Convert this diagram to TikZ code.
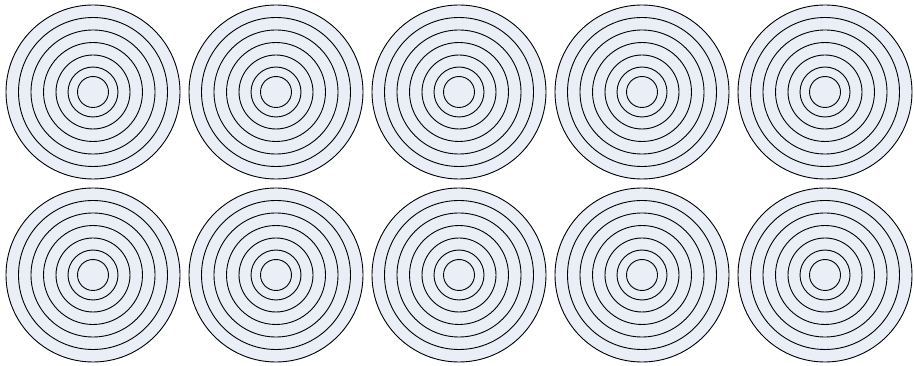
\documentclass[tikz,border=0pt]{standalone}
\usepackage{tikz}
\definecolor{targetfill}{RGB}{233, 238, 247}
\usetikzlibrary{positioning}
\tikzset{
  % Outer disc of each target.
  target/.style={
    circle, draw=black, line width=0.9pt,
    fill=targetfill,
    inner sep=0pt, minimum size=174pt,
  },
  % Inner rings.
  ring/.style={draw=black, line width=0.9pt},
}

\begin{document}
\begin{tikzpicture}[x=1pt, y=-1pt]

  \useasboundingbox (0, 0) rectangle (914, 366);

  % Two rows of five targets.
  \foreach \row/\ypos in {1/92, 2/275} {
    \foreach \col in {1, ..., 5} {
      \node[target] (t-\row-\col) at ({93 + 183*(\col-1)}, \ypos) {};
      \foreach \rad in {74.5, 62, 49.5, 37, 25, 15.5}
        \draw[ring] (t-\row-\col.center) circle (\rad);
    }
  }

\end{tikzpicture}
\end{document}
